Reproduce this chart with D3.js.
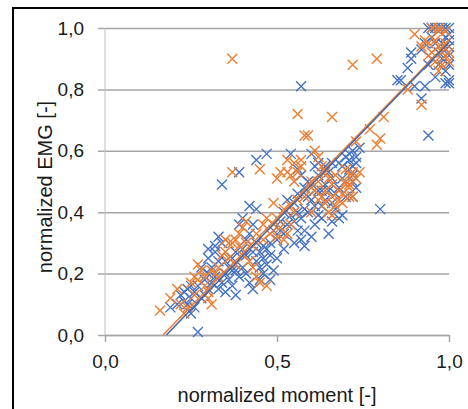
<!DOCTYPE html>
<html><head><meta charset="utf-8">
<script src="https://cdn.jsdelivr.net/npm/d3@7"></script>
<style>body{margin:0;background:#fff;overflow:hidden}svg{display:block}</style>
</head><body>
<script>
const xTicks = [0, 0.5, 1.0];
const yTicks = [0, 0.2, 0.4, 0.6, 0.8, 1.0];
const xLabel = "normalized moment [-]";
const yLabel = "normalized EMG [-]";
// trendlines: [slope, intercept]
const blueTrend = [1.16, -0.207];
const orangeTrend = [1.15, -0.194];

const blueX = [0.19,0.22,0.23,0.24,0.25,0.24,0.26,0.27,0.26,0.25,0.27,0.28,0.29,0.30,0.29,0.30,0.31,0.32,0.31,0.30,0.32,0.33,0.32,0.34,0.33,0.34,0.35,0.36,0.35,0.36,0.37,0.38,0.37,0.39,0.40,0.38,0.41,0.42,0.43,0.40,0.41,0.42,0.39,0.40,0.42,0.44,0.43,0.44,0.45,0.46,0.45,0.46,0.47,0.47,0.48,0.49,0.50,0.48,0.45,0.44,
0.50,0.51,0.52,0.51,0.53,0.52,0.54,0.55,0.56,0.55,0.56,0.57,0.58,0.57,0.58,0.59,0.58,0.57,0.56,0.60,0.59,0.60,0.61,0.62,0.61,0.60,0.63,0.64,0.63,0.62,0.61,0.62,0.64,0.65,0.66,0.65,0.66,0.67,0.68,0.66,0.65,0.68,0.69,0.70,0.71,0.72,0.73,0.72,0.71,0.74,0.72,0.73,0.72,0.69,0.44,0.47,0.54,0.34,0.39,0.57,0.80,
0.28,0.30,0.33,0.35,0.37,0.38,0.41,0.43,0.46,0.48,0.49,0.52,0.53,0.56,0.59,0.62,0.64,0.66,0.67,0.69,0.70,0.71,0.73,0.72,0.68,0.63,0.58,0.55,0.21,0.23,0.25,
0.85,0.86,0.88,0.89,0.89,0.90,0.92,0.93,0.94,0.92,0.93,0.94,0.95,0.96,0.97,0.98,0.99,1.0,1.0,1.0,0.99,1.0,0.99,1.0,0.98,0.97,0.96,0.95,0.98,1.0,0.99,1.0,1.0,0.99,0.97,0.96,0.95,0.94];
const blueY = [0.09,0.13,0.11,0.10,0.12,0.15,0.14,0.16,0.09,0.07,0.01,0.12,0.13,0.15,0.18,0.20,0.17,0.19,0.22,0.25,0.27,0.24,0.29,0.30,0.15,0.17,0.20,0.18,0.14,0.22,0.25,0.21,0.16,0.19,0.22,0.13,0.20,0.17,0.15,0.28,0.31,0.33,0.36,0.38,0.42,0.41,0.36,0.30,0.27,0.25,0.22,0.20,0.23,0.28,0.26,0.21,0.25,0.18,0.18,0.24,
0.31,0.34,0.33,0.37,0.36,0.40,0.39,0.43,0.40,0.37,0.34,0.31,0.34,0.38,0.41,0.45,0.48,0.52,0.54,0.59,0.50,0.44,0.42,0.39,0.36,0.32,0.42,0.44,0.47,0.52,0.55,0.56,0.55,0.53,0.56,0.47,0.43,0.41,0.38,0.37,0.33,0.48,0.51,0.58,0.54,0.55,0.56,0.60,0.59,0.61,0.50,0.48,0.45,0.39,0.57,0.59,0.59,0.49,0.53,0.81,0.41,
0.22,0.28,0.32,0.24,0.21,0.27,0.26,0.27,0.29,0.30,0.34,0.28,0.44,0.46,0.40,0.47,0.49,0.51,0.46,0.55,0.45,0.57,0.58,0.52,0.56,0.38,0.29,0.30,0.10,0.14,0.16,
0.83,0.83,0.87,0.90,0.92,0.81,0.77,0.81,0.65,0.93,0.95,1.0,1.0,1.0,1.0,1.0,1.0,1.0,0.98,0.96,0.97,0.94,0.93,0.91,0.90,0.92,0.95,0.97,0.95,0.88,0.86,0.83,0.82,0.82,0.88,0.84,0.90,0.88];

const orangeX = [0.16,0.19,0.21,0.22,0.23,0.24,0.25,0.26,0.27,0.28,0.27,0.29,0.30,0.31,0.30,0.32,0.33,0.34,0.35,0.36,0.37,0.38,0.39,0.40,0.41,0.39,0.40,0.42,0.43,0.44,0.45,0.47,0.46,0.48,0.49,0.50,0.51,0.50,0.52,0.53,0.54,0.55,0.56,0.55,0.56,0.57,0.54,0.53,0.60,0.61,0.62,0.63,0.64,0.65,0.66,0.67,0.68,0.69,0.70,0.70,0.71,0.72,0.73,0.71,0.72,0.74,0.73,0.68,0.66,0.65,0.64,0.63,0.62,0.61,0.59,0.58,0.57,0.55,0.51,0.37,0.45,0.50,0.53,
0.29,0.31,0.33,0.35,0.36,0.38,0.41,0.43,0.44,0.46,0.47,0.49,0.52,0.54,0.58,0.60,0.62,0.64,0.66,0.67,0.69,0.70,0.71,0.60,0.26,
0.37,0.56,0.66,0.72,0.79,0.77,0.79,0.80,0.81,0.88,0.92,0.97,0.95,0.94,0.95,0.96,0.97,0.98,0.99,0.98,0.97,1.0,1.0,0.99,0.93,0.92,0.94,0.96,0.97,0.99,0.71,0.90];
const orangeY = [0.08,0.12,0.15,0.10,0.07,0.09,0.17,0.19,0.18,0.21,0.23,0.16,0.14,0.10,0.12,0.20,0.22,0.26,0.27,0.30,0.30,0.31,0.33,0.35,0.37,0.29,0.26,0.24,0.22,0.19,0.17,0.16,0.31,0.33,0.36,0.38,0.35,0.32,0.31,0.33,0.36,0.40,0.44,0.50,0.53,0.57,0.52,0.53,0.48,0.47,0.50,0.45,0.43,0.40,0.39,0.42,0.44,0.46,0.49,0.50,0.52,0.53,0.51,0.48,0.45,0.53,0.63,0.47,0.49,0.51,0.53,0.55,0.58,0.60,0.65,0.65,0.55,0.56,0.53,0.53,0.54,0.51,0.57,
0.19,0.21,0.19,0.31,0.25,0.23,0.30,0.29,0.33,0.36,0.38,0.43,0.41,0.42,0.45,0.50,0.44,0.47,0.45,0.52,0.43,0.54,0.49,0.40,0.13,
0.90,0.72,0.71,0.88,0.90,0.67,0.62,0.64,0.71,0.80,0.75,1.0,1.0,0.95,0.92,0.96,0.94,0.92,0.91,0.88,0.86,0.89,0.92,0.95,0.96,0.94,0.91,0.89,0.99,0.99,0.45,0.98];

const W = 468, H = 409;
const svg = d3.select("body").append("svg").attr("width", W).attr("height", H);
const font = "'Liberation Sans', Arial, sans-serif";

// outer frame
svg.append("rect").attr("x", 13).attr("y", 8).attr("width", 500).attr("height", 450)
  .attr("fill", "none").attr("stroke", "#000").attr("stroke-width", 2);

const x = d3.scaleLinear().domain([0, 1]).range([105, 449]);
const y = d3.scaleLinear().domain([0, 1]).range([335, 28]);
const fmt = d => d3.format(".1f")(d).replace(".", ",");

// gridlines + y axis
const yAxis = d3.axisLeft(y).tickValues(yTicks).tickFormat(fmt).tickSize(-(449 - 98)).tickPadding(14);
const gy = svg.append("g").attr("transform", "translate(98,0)").call(yAxis);
gy.select(".domain").remove();
gy.selectAll(".tick line").attr("stroke", "#a6a6a6").attr("stroke-width", 1.5);
gy.selectAll(".tick text").attr("font-family", font).attr("font-size", 19).attr("fill", "#1a1a1a");

// vertical axis line
svg.append("line").attr("x1", 105).attr("x2", 105).attr("y1", y(1)).attr("y2", y(0))
  .attr("stroke", "#bfbfbf").attr("stroke-width", 1);

const xAxis = d3.axisBottom(x).tickValues(xTicks).tickFormat(fmt).tickSize(7).tickSizeOuter(0).tickPadding(13);
const gx = svg.append("g").attr("transform", "translate(0,335)").call(xAxis);
gx.select(".domain").attr("stroke", "#a6a6a6").attr("stroke-width", 1.5);
gx.selectAll(".tick line").attr("stroke", "#a6a6a6").attr("stroke-width", 1.5);
gx.selectAll(".tick text").attr("font-family", font).attr("font-size", 19).attr("fill", "#1a1a1a");

function drawX(xs, ys, color) {
  const s = 5;
  const g = svg.append("g").attr("stroke", color).attr("stroke-width", 1.4).attr("fill", "none");
  xs.forEach((v, i) => {
    const cx = x(v), cy = y(ys[i]);
    g.append("path").attr("d", `M${cx - s},${cy - s}L${cx + s},${cy + s}M${cx - s},${cy + s}L${cx + s},${cy - s}`);
  });
}
drawX(blueX, blueY, "#4472C4");
drawX(orangeX, orangeY, "#ED7D31");

function trend(t, color) {
  const x0 = -t[1] / t[0];
  svg.append("line").attr("x1", x(x0)).attr("y1", y(0)).attr("x2", x(1)).attr("y2", y(t[0] + t[1]))
    .attr("stroke", color).attr("stroke-width", 1.5);
}
trend(orangeTrend, "#ED7D31");
trend(blueTrend, "#3d66b0");

svg.append("text").attr("x", 277).attr("y", 402).attr("text-anchor", "middle")
  .attr("font-family", font).attr("font-size", 20).attr("fill", "#1a1a1a").text(xLabel);
svg.append("text").attr("transform", "translate(52,187) rotate(-90)").attr("text-anchor", "middle")
  .attr("font-family", font).attr("font-size", 20).attr("fill", "#1a1a1a").text(yLabel);
</script>
</body></html>
